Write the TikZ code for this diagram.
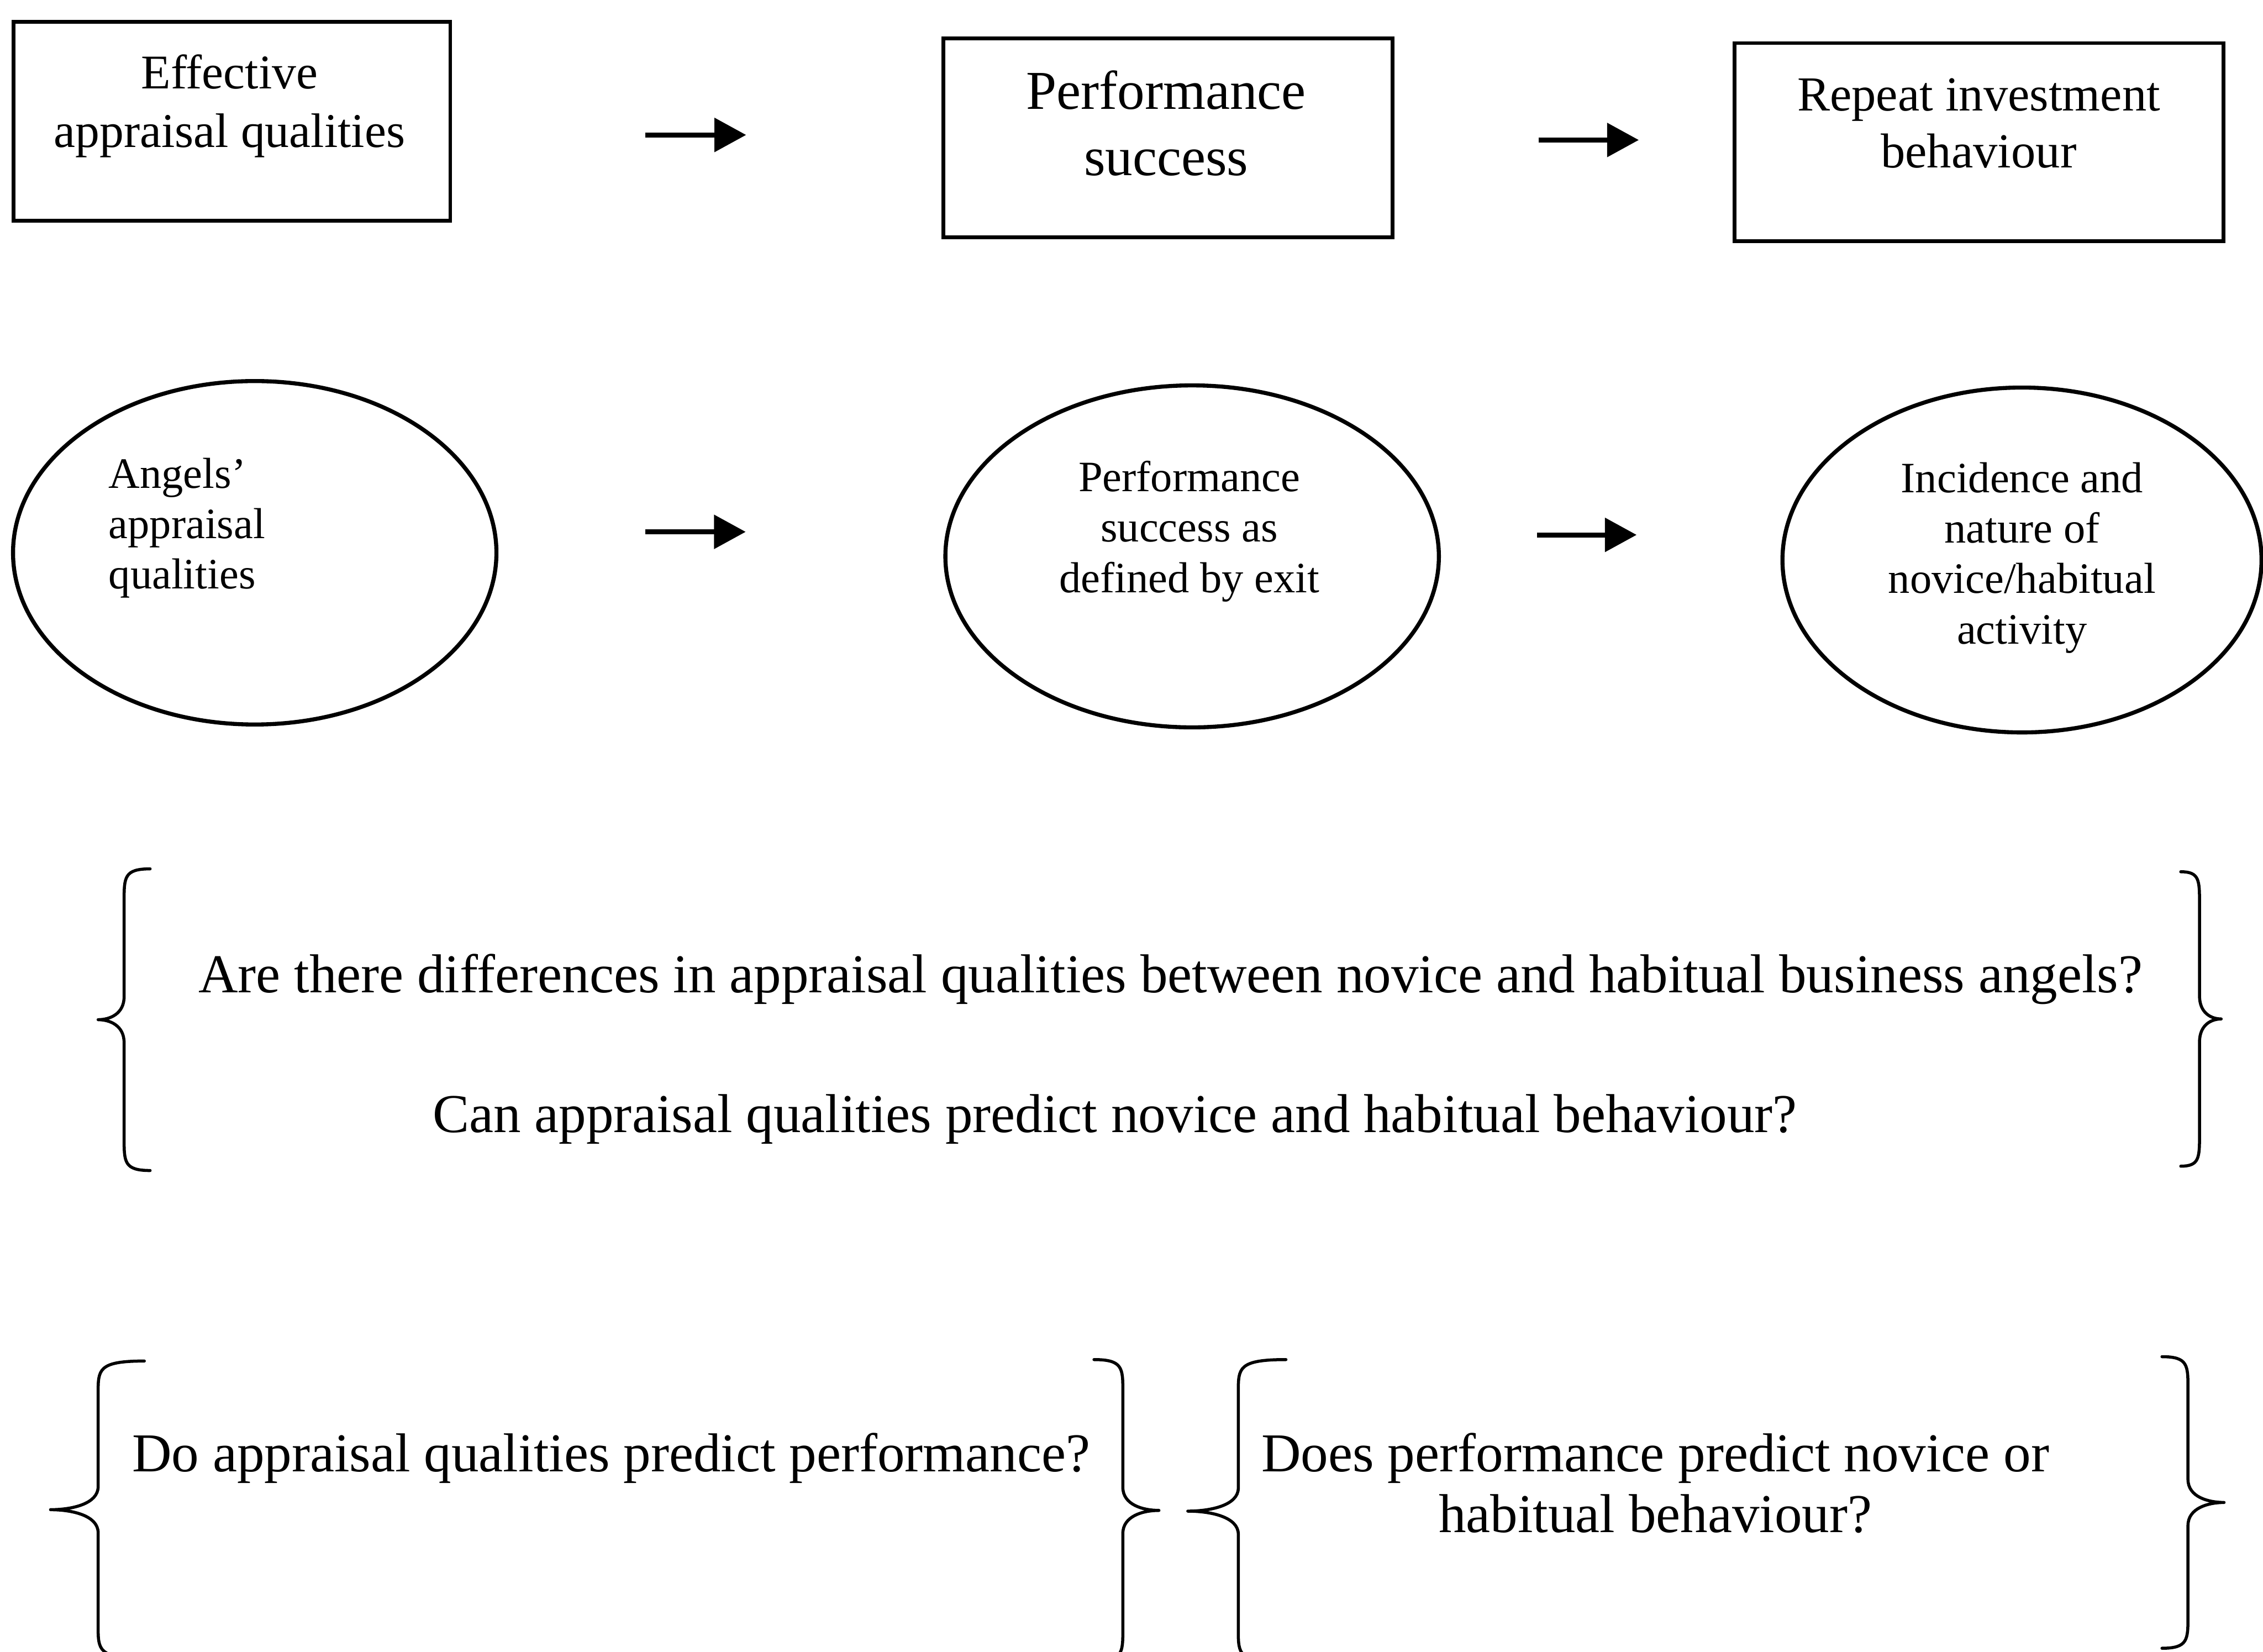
\documentclass[tikz,border=0pt]{standalone}
\usepackage{fontspec}
\setmainfont{Liberation Serif}
\usetikzlibrary{shapes.geometric,arrows.meta}
\newcommand{\mybrace}[5]{% #1 end x, #2 line x, #3 tip x, #4 top y, #5 bottom y
  \pgfmathsetmacro\bym{(#4+#5)/2}%
  \pgfmathsetmacro\bcx{#3+0.45*(#2-#3)}%
  \draw[brc] (#1,#4) .. controls (#2,#4) and (#2,#4+6) .. (#2,#4+22)
    -- (#2,\bym-16) .. controls (#2,\bym-4) and (\bcx,\bym) .. (#3,\bym)
    .. controls (\bcx,\bym) and (#2,\bym+4) .. (#2,\bym+16)
    -- (#2,#5-22) .. controls (#2,#5-6) and (#2,#5) .. (#1,#5);}
\begin{document}
\begin{tikzpicture}[x=0.02cm,y=-0.02cm,
  box/.style={draw,line width=1.5pt,rectangle,inner sep=0pt},
  oval/.style={draw,line width=1.6pt,ellipse,inner sep=0pt},
  arr/.style={line width=2pt,-{Triangle[length=0.44cm,width=0.46cm]}},
  brc/.style={line width=1.2pt,line cap=round,line join=round},
  txt/.style={inner sep=0pt,align=center,anchor=base},
  bigtxt/.style={txt,font=\fontsize{21.6}{23.9}\selectfont},
  ovtxt/.style={txt,font=\fontsize{17.1}{19.9}\selectfont}]
\useasboundingbox (0,0) rectangle (1568,1144.56);
\clip (0,0) rectangle (1568,1144.56);

% top row boxes (base anchor = baseline of the last line)
\node[box,minimum width=6.05cm,minimum height=2.76cm] (b1) at (160.75,84) {};
\node[box,minimum width=6.23cm,minimum height=2.756cm] (b2) at (809.3,95.4) {};
\node[box,minimum width=6.78cm,minimum height=2.746cm] (b3) at (1371.25,98.5) {};
\node[txt,font=\fontsize{19.1}{23}\selectfont] (t1) at (159,102) {Effective\\appraisal qualities};
\node[txt,font=\fontsize{21.6}{26}\selectfont] (t2) at (808,121.4) {Performance\\success};
\node[txt,font=\fontsize{19.3}{22.5}\selectfont] (t3) at (1371,116.3) {Repeat investment\\behaviour};

\coordinate (a1s) at (447,93.5);  \coordinate (a1e) at (517,93.5);
\coordinate (a2s) at (1066,97);   \coordinate (a2e) at (1135.5,97);
\draw[arr] (a1s) -- (a1e);
\draw[arr] (a2s) -- (a2e);

% ellipse row
\node[oval,minimum width=6.70cm,minimum height=4.76cm] (e1) at (176.5,383) {};
\node[oval,minimum width=6.84cm,minimum height=4.74cm] (e2) at (826,385.5) {};
\node[oval,minimum width=6.64cm,minimum height=4.78cm] (e3) at (1401,388) {};
\node[ovtxt,align=left,anchor=base west] (u1) at (75,408) {Angels'\\appraisal\\qualities};
\node[ovtxt] (u2) at (824,410.5) {Performance\\success as\\defined by exit};
\node[ovtxt] (u3) at (1401,446) {Incidence and\\nature of\\novice/habitual\\activity};

\coordinate (c1s) at (447,368.5);  \coordinate (c1e) at (516.7,368.5);
\coordinate (c2s) at (1065,370.6); \coordinate (c2e) at (1134,370.6);
\draw[arr] (c1s) -- (c1e);
\draw[arr] (c2s) -- (c2e);

% middle questions
\mybrace{104}{86}{68}{602}{811}
\mybrace{1511}{1524}{1539}{604}{808}
\node[bigtxt] (q1) at (811,687.6) {Are there differences in appraisal qualities between novice and habitual business angels?};
\node[bigtxt] (q2) at (772.5,784.6) {Can appraisal qualities predict novice and habitual behaviour?};

% bottom questions
\mybrace{100}{68}{35}{943}{1149}
\mybrace{758}{778}{803}{942}{1151}
\mybrace{891}{858}{823}{942}{1152}
\mybrace{1498}{1516}{1541}{940}{1142}
\node[bigtxt] (q3) at (423.5,1019.5) {Do appraisal qualities predict performance?};
\node[bigtxt] (q4) at (1147,1061.6) {Does performance predict novice or\\habitual behaviour?};
\end{tikzpicture}
\end{document}
